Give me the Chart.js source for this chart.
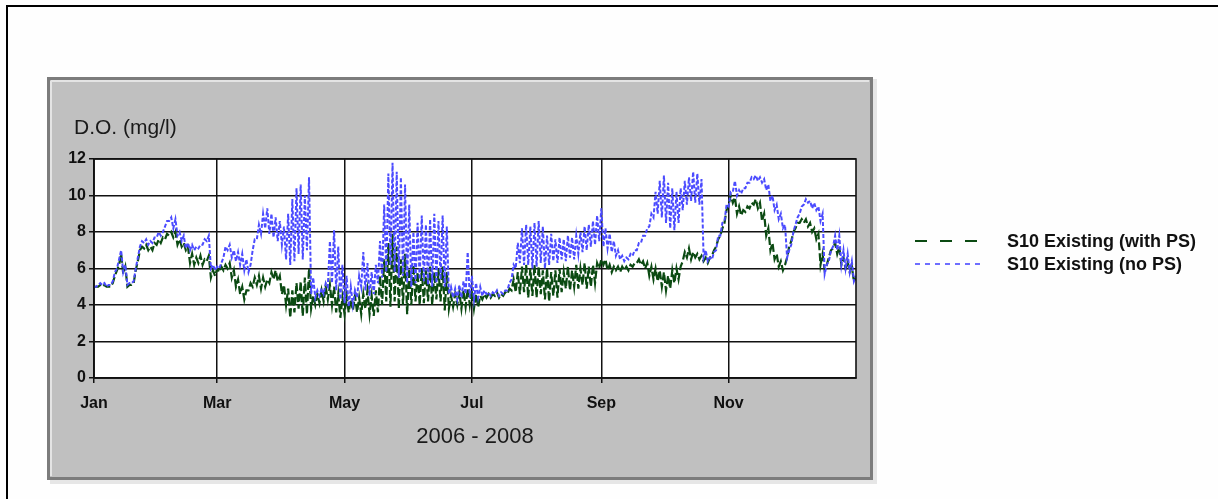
<!DOCTYPE html>
<html>
<head>
<meta charset="utf-8">
<title>S10 dissolved oxygen</title>
<style>
  html, body { margin: 0; padding: 0; background: #fefefe; }
  canvas { display: block; }
</style>
<script src="https://cdn.jsdelivr.net/npm/chart.js@4/dist/chart.umd.min.js"></script>
</head>
<body>
<canvas id="doChart" width="1218" height="499"></canvas>
<script>
// Month ticks on the day-of-year axis (every second month is labelled)
const monthDays = [0, 59, 120, 181, 243, 304];
const monthLabels = ['Jan', 'Mar', 'May', 'Jul', 'Sep', 'Nov'];

// Y axis range (mg/l)
const yMin = 0;
const yMax = 12;

// Series are stored as daily low / high pairs, one pair every STEP_DAYS days
const STEP_DAYS = 2;

// S10 Existing (no PS)
const noPsLow = [
  5.0,5.1,5.1,5.0,5.1,5.8,6.5,5.8,5.1,5.2,
  6.0,7.2,7.4,7.3,7.4,7.7,7.8,8.3,8.6,8.2,
  7.8,7.5,7.1,7.0,7.0,7.1,7.3,7.5,6.0,5.9,
  6.0,6.6,7.0,6.6,6.4,6.2,5.9,5.8,7.0,7.6,
  7.9,8.2,7.9,7.7,7.5,7.3,6.5,6.2,6.4,6.8,
  6.5,7.0,4.6,4.4,4.5,4.6,5.0,5.2,4.8,4.3,
  4.1,3.9,4.0,4.4,5.0,4.8,4.5,4.6,5.2,5.5,
  5.8,6.2,5.8,5.5,5.6,5.2,5.0,5.2,5.4,5.3,
  5.1,5.0,5.2,5.4,5.0,4.6,4.4,4.3,4.4,4.6,
  4.4,4.3,4.4,4.5,4.6,4.5,4.6,4.5,4.6,4.8,
  5.4,6.0,6.3,6.2,6.2,6.0,6.1,6.3,6.0,6.2,
  6.4,6.3,6.5,6.4,6.6,6.5,6.8,6.9,7.0,7.2,
  7.3,7.5,7.2,7.1,6.9,6.7,6.5,6.4,6.5,6.7,
  7.0,7.4,7.8,8.3,8.8,9.0,8.8,8.5,8.2,8.1,
  8.5,9.2,9.5,9.7,9.6,9.5,6.6,6.4,6.5,7.0,
  7.8,8.6,9.4,10.2,10.0,10.1,10.4,10.7,10.9,10.8,
  10.7,10.3,9.7,9.2,8.7,8.2,6.6,7.3,8.4,9.0,
  9.5,9.6,9.3,9.2,8.6,5.7,6.4,7.2,7.0,6.2,
  6.0,5.8,5.3
];
const noPsHigh = [
  5.0,5.2,5.2,5.1,5.3,6.0,7.0,6.2,5.2,5.3,
  6.6,7.5,7.6,7.5,7.7,8.0,8.0,8.6,8.8,8.7,
  8.0,7.8,7.4,7.3,7.2,7.3,7.6,7.8,6.2,6.1,
  6.3,7.2,7.3,7.0,6.9,6.8,6.5,6.2,7.6,8.4,
  9.0,9.3,9.0,8.8,8.6,8.3,9.0,9.8,10.4,10.6,
  10.0,11.0,5.5,4.8,4.9,5.2,7.5,8.1,7.2,6.2,
  5.6,5.0,4.8,5.6,6.9,6.3,5.8,6.2,7.5,9.5,
  11.2,11.8,11.3,11.0,10.6,9.5,8.0,8.5,8.9,8.4,
  8.7,9.0,8.6,8.9,8.3,5.0,4.9,5.1,5.3,6.9,
  5.6,5.2,5.0,4.8,4.7,4.7,4.8,4.7,4.8,5.2,
  6.2,7.4,8.2,8.4,8.3,8.5,8.6,8.3,7.8,7.9,
  7.6,7.7,7.6,7.8,7.7,7.8,8.0,8.3,8.4,8.6,
  8.9,9.3,8.2,7.9,7.5,7.0,6.7,6.6,6.8,7.0,
  7.4,7.8,8.2,9.0,10.2,10.8,11.1,10.7,10.4,10.2,
  10.4,10.8,11.0,11.3,11.2,10.9,7.0,6.6,6.9,7.8,
  8.5,9.5,10.2,10.8,10.3,10.4,10.7,11.0,11.1,11.0,
  10.9,10.6,10.0,9.5,9.0,8.4,7.0,8.0,8.8,9.4,
  9.8,9.7,9.6,9.4,9.0,6.2,7.0,7.8,7.8,7.0,
  6.8,6.4,5.6
];

// S10 Existing (with PS)
const withPsLow = [
  5.0,5.0,5.0,5.0,5.0,5.6,6.2,5.7,5.0,5.1,
  5.9,7.0,7.1,7.0,7.0,7.3,7.4,7.6,7.8,7.7,
  7.3,7.2,7.0,6.3,6.2,6.3,6.2,6.4,5.5,5.6,
  5.8,5.9,6.0,5.5,5.0,4.6,4.3,4.8,5.0,5.1,
  4.9,5.0,5.2,5.4,5.3,4.6,4.0,3.3,3.6,3.8,
  3.4,3.5,3.8,4.0,4.1,4.2,4.3,4.0,3.6,3.3,
  3.5,3.6,3.7,3.6,3.5,3.8,3.5,3.4,3.6,4.0,
  4.2,3.9,4.2,3.8,4.0,3.5,4.0,4.2,4.0,4.1,
  4.2,4.0,4.3,4.2,3.7,3.8,3.9,4.0,3.8,3.9,
  4.0,3.8,3.9,4.3,4.4,4.4,4.5,4.4,4.5,4.6,
  4.8,4.7,4.6,4.7,4.4,4.5,4.4,4.6,4.3,4.2,
  4.5,4.4,4.7,4.9,4.8,5.0,4.9,5.1,4.9,5.0,
  5.2,6.0,6.2,5.9,5.8,5.9,5.8,5.9,5.9,6.1,
  6.3,6.2,6.0,5.6,5.4,5.3,5.0,4.8,4.9,5.2,
  5.4,6.4,6.6,6.5,6.6,6.5,6.4,6.3,6.7,7.2,
  7.8,8.5,9.5,9.6,9.0,8.9,9.1,9.3,9.5,9.3,
  8.6,7.8,7.0,6.5,6.1,5.9,6.6,7.5,8.2,8.5,
  8.5,8.3,8.0,7.6,6.2,5.9,6.6,7.1,6.8,6.2,
  6.0,5.8,5.3
];
const withPsHigh = [
  5.0,5.1,5.1,5.0,5.2,5.9,6.8,6.1,5.1,5.2,
  6.4,7.2,7.3,7.2,7.4,7.6,7.7,7.9,8.0,8.0,
  7.6,7.4,7.2,6.8,6.6,6.7,6.5,6.7,5.9,6.0,
  6.1,6.2,6.3,5.9,5.4,5.0,4.8,5.2,5.5,5.6,
  5.5,5.4,5.8,5.9,5.6,5.1,4.9,4.8,5.2,5.3,
  5.5,6.0,4.5,4.6,4.8,5.0,5.1,5.0,4.6,4.4,
  4.5,4.3,4.5,4.4,4.6,4.8,4.5,4.8,5.6,6.5,
  7.4,7.9,7.2,6.5,6.8,6.0,6.2,5.8,6.0,5.9,
  6.1,5.8,6.0,6.1,5.8,4.5,4.6,4.7,4.8,4.9,
  4.8,4.6,4.5,4.6,4.6,4.6,4.7,4.6,4.7,4.9,
  5.4,5.8,6.1,6.2,6.0,6.2,6.1,5.9,6.0,5.8,
  5.9,6.0,5.8,6.1,5.9,6.2,6.0,6.3,6.1,6.2,
  6.3,6.5,6.5,6.2,6.1,6.1,6.1,6.1,6.2,6.3,
  6.5,6.4,6.3,6.1,6.0,5.9,5.8,5.6,5.9,6.0,
  6.1,6.9,7.1,6.9,6.8,6.7,6.6,6.6,7.0,7.6,
  8.2,9.2,10.0,9.9,9.4,9.2,9.4,9.6,9.8,9.6,
  9.0,8.2,7.4,6.8,6.4,6.2,7.2,8.0,8.5,8.7,
  8.7,8.5,8.2,7.9,6.8,6.2,7.0,7.4,7.2,6.6,
  6.4,6.1,5.5
];

const seriesNames = ['S10 Existing (with PS)', 'S10 Existing (no PS)'];
const seriesColors = ['#0b4a12', '#4b4bff'];
const axisTitleY = 'D.O. (mg/l)';
const axisTitleX = '2006 - 2008';

// Turn a low/high pair list into an alternating day-by-day trace
function toTrace(low, high) {
  const pts = [];
  for (let i = 0; i < low.length; i++) {
    pts.push({ x: i * STEP_DAYS, y: low[i] });
    pts.push({ x: i * STEP_DAYS + 1, y: high[i] });
  }
  return pts;
}

const FONT = '"Liberation Sans", Arial, sans-serif';

// Page frame, grey chart panel and white plot background
const panelPlugin = {
  id: 'panel',
  beforeDraw(chart) {
    const ctx = chart.ctx;
    const a = chart.chartArea;
    ctx.save();
    ctx.fillStyle = '#fefefe';
    ctx.fillRect(0, 0, chart.width, chart.height);

    // outer black page frame
    ctx.fillStyle = '#000';
    ctx.fillRect(6, 5, chart.width - 6, 2);
    ctx.fillRect(6, 5, 2, chart.height - 5);

    // soft outer shadow of the panel
    ctx.fillStyle = '#e6e6e6';
    ctx.fillRect(873, 79, 4, 405);
    ctx.fillRect(50, 480, 827, 4);

    // panel fill and border
    ctx.fillStyle = '#c0c0c0';
    ctx.fillRect(47, 77, 826, 403);
    ctx.strokeStyle = '#7c7c7c';
    ctx.lineWidth = 3;
    ctx.strokeRect(48.5, 78.5, 823, 400);
    ctx.strokeStyle = '#e4e4e4';
    ctx.lineWidth = 2;
    ctx.beginPath();
    ctx.moveTo(51, 81); ctx.lineTo(869, 81);
    ctx.moveTo(51, 81); ctx.lineTo(51, 476);
    ctx.stroke();

    // plot area
    ctx.fillStyle = '#ffffff';
    ctx.fillRect(a.left, a.top, a.right - a.left, a.bottom - a.top);
    ctx.restore();
  },
  afterDraw(chart) {
    const ctx = chart.ctx;
    const a = chart.chartArea;
    ctx.save();
    // plot frame
    ctx.strokeStyle = '#111';
    ctx.lineWidth = 1.6;
    ctx.strokeRect(a.left, a.top, a.right - a.left, a.bottom - a.top);

    // axis titles
    ctx.fillStyle = '#1a1a1a';
    ctx.font = '21px ' + FONT;
    ctx.textBaseline = 'middle';
    ctx.textAlign = 'left';
    ctx.fillText(axisTitleY, 74, 128);
    ctx.font = '22px ' + FONT;
    ctx.textAlign = 'center';
    ctx.fillText(axisTitleX, (a.left + a.right) / 2, 437);

    // legend at the right of the panel
    const rows = [
      { y: 241, dash: [12, 13], width: 1.8 },
      { y: 264, dash: [5, 5], width: 1.6 }
    ];
    rows.forEach((r, i) => {
      ctx.strokeStyle = seriesColors[i];
      ctx.lineWidth = r.width;
      ctx.setLineDash(r.dash);
      ctx.beginPath();
      ctx.moveTo(915, r.y);
      ctx.lineTo(980, r.y);
      ctx.stroke();
      ctx.setLineDash([]);
      ctx.fillStyle = '#111';
      ctx.font = 'bold 18px ' + FONT;
      ctx.textAlign = 'left';
      ctx.fillText(seriesNames[i], 1007, r.y + 1);
    });
    ctx.restore();
  }
};

const chart = new Chart(document.getElementById('doChart'), {
  type: 'line',
  data: {
    datasets: [
      {
        label: seriesNames[1],
        data: toTrace(noPsLow, noPsHigh),
        borderColor: seriesColors[1],
        borderWidth: 2,
        borderDash: [4, 2],
        pointRadius: 0,
        tension: 0,
        fill: false,
        order: 0
      },
      {
        label: seriesNames[0],
        data: toTrace(withPsLow, withPsHigh),
        borderColor: seriesColors[0],
        borderWidth: 2.2,
        borderDash: [8, 3],
        pointRadius: 0,
        tension: 0,
        fill: false,
        order: 1
      }
    ]
  },
  options: {
    responsive: false,
    animation: false,
    devicePixelRatio: 1,
    layout: { padding: { top: 159, right: 362, bottom: 0, left: 0 } },
    plugins: { legend: { display: false }, tooltip: { enabled: false }, title: { display: false } },
    scales: {
      x: {
        type: 'linear',
        min: 0,
        max: 365,
        z: 1,
        afterBuildTicks: s => { s.ticks = monthDays.map(v => ({ value: v })); },
        afterFit: s => { s.height = 121; },
        ticks: {
          autoSkip: false,
          maxRotation: 0,
          padding: 11,
          color: '#111',
          font: { family: FONT, size: 16, weight: 'bold' },
          callback: (v, i) => monthLabels[i]
        },
        grid: { color: '#111', lineWidth: 1.5, tickLength: 5, tickColor: '#111' },
        border: { color: '#111', width: 1.6 }
      },
      y: {
        min: yMin,
        max: yMax,
        z: 1,
        afterFit: s => { s.width = 94; },
        ticks: {
          stepSize: 1,
          padding: 3,
          color: '#111',
          font: { family: FONT, size: 16, weight: 'bold' },
          callback: v => (v % 2 === 0 ? String(v) : '')
        },
        grid: {
          color: c => (c.tick && c.tick.value % 2 !== 0 ? 'rgba(0,0,0,0)' : '#111'),
          tickColor: '#111',
          lineWidth: 1.5,
          tickLength: 5
        },
        border: { color: '#111', width: 1.6 }
      }
    }
  },
  plugins: [panelPlugin]
});
</script>
</body>
</html>
